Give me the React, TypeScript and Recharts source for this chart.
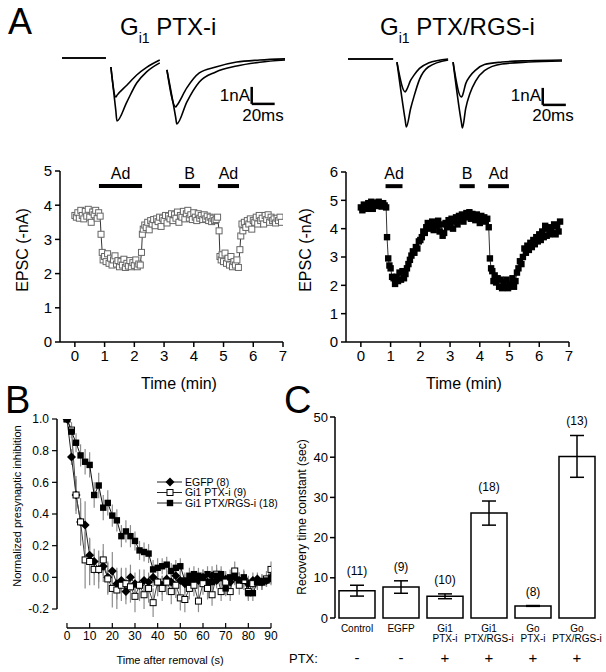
import React from 'react';
import {
  LineChart, Line, XAxis, YAxis, ReferenceLine, ReferenceDot, ErrorBar,
  BarChart, Bar, LabelList,
} from 'recharts';

const FONT = '"Liberation Sans", Arial, Helvetica, sans-serif';

// ---- A: sample EPSC traces (time in ms, current in nA) ----
const traceTimeL = [0, 40, 42, 44.5, 49, 50, 59, 68, 77, 89, 92, 95.5, 103.5, 104.5, 113.6, 125, 140, 159, 180, 203];
const traceCtrlL = [0, 0, null, -0.53, -3.1, -3.7, -2.59, -1.47, -0.82, -0.29, null, -0.7, -3.5, -3.88, -2.59, -1.41, -0.82, -0.47, -0.25, -0.12];
const traceDrugL = [0, 0, null, -0.53, -2.29, -2.2, -1.6, -1.0, -0.55, -0.12, null, -0.7, -2.88, -2.8, -1.76, -0.88, -0.53, -0.24, -0.12, -0.05];

const traceTimeR = [0, 41, 43, 44.5, 52, 53, 57, 60, 65, 73, 91, 93, 95.5, 103, 104, 107, 111, 116, 124, 140, 164, 194.5];
const traceCtrlR = [0, 0, null, -0.18, -3.6, -4.0, -2.9, -2.2, -1.2, -0.47, -0.06, null, -0.18, -3.7, -4.06, -2.9, -2.0, -1.3, -0.68, -0.29, -0.18, -0.12];
const traceDrugR = [0, 0, null, -0.18, -1.94, -1.85, -1.25, -0.95, -0.55, -0.24, 0, null, -0.18, -2.24, -2.15, -1.45, -1.0, -0.65, -0.33, -0.18, -0.1, -0.06];

// ---- A: EPSC amplitude time courses (min, -nA) ----
const epscPtxI: [number, number][] = [
  [0, 3.7], [0.05, 3.65], [0.1, 3.78], [0.15, 3.62], [0.2, 3.85], [0.25, 3.7], [0.3, 3.6], [0.35, 3.82], [0.4, 3.68],
  [0.45, 3.88], [0.5, 3.65], [0.55, 3.5], [0.6, 3.8], [0.65, 3.72], [0.7, 3.85], [0.75, 3.62], [0.8, 3.78], [0.85, 3.68],
  [0.88, 3.15], [0.92, 2.62], [0.95, 2.4], [1.0, 2.5], [1.05, 2.35], [1.1, 2.58], [1.15, 2.3], [1.2, 2.45], [1.25, 2.25],
  [1.3, 2.4], [1.35, 2.52], [1.4, 2.28], [1.45, 2.38], [1.5, 2.2], [1.55, 2.35], [1.6, 2.25], [1.65, 2.42], [1.7, 2.18],
  [1.75, 2.3], [1.8, 2.22], [1.85, 2.38], [1.9, 2.2], [1.95, 2.32], [2.0, 2.24], [2.05, 2.4], [2.1, 2.2], [2.15, 2.28],
  [2.2, 2.25], [2.24, 2.62], [2.27, 3.15], [2.3, 3.3], [2.35, 3.42], [2.4, 3.35], [2.45, 3.5], [2.5, 3.28], [2.55, 3.55],
  [2.6, 3.45], [2.65, 3.58], [2.7, 3.4], [2.75, 3.6], [2.8, 3.52], [2.85, 3.65], [2.9, 3.38], [2.95, 3.62], [3.0, 3.55],
  [3.05, 3.7], [3.1, 3.48], [3.15, 3.68], [3.2, 3.6], [3.25, 3.75], [3.3, 3.55], [3.35, 3.72], [3.4, 3.62], [3.45, 3.8],
  [3.5, 3.5], [3.55, 3.7], [3.6, 3.65], [3.65, 3.82], [3.7, 3.6], [3.75, 3.75], [3.8, 3.85], [3.85, 3.62], [3.9, 3.72],
  [3.95, 3.58], [4.0, 3.78], [4.05, 3.65], [4.1, 3.55], [4.15, 3.75], [4.2, 3.62], [4.25, 3.7], [4.3, 3.58], [4.35, 3.72],
  [4.4, 3.6], [4.45, 3.68], [4.5, 3.55], [4.55, 3.65], [4.6, 3.52], [4.65, 3.62], [4.7, 3.55], [4.75, 3.58], [4.8, 3.65],
  [4.85, 3.25], [4.88, 2.5], [4.92, 2.4], [4.95, 2.55], [5.0, 2.35], [5.05, 2.6], [5.1, 2.3], [5.15, 2.45], [5.2, 2.25],
  [5.25, 2.5], [5.3, 2.2], [5.35, 2.35], [5.4, 2.25], [5.45, 2.4], [5.5, 2.18], [5.55, 2.7], [5.58, 3.1], [5.62, 3.45],
  [5.65, 3.25], [5.7, 3.5], [5.75, 3.35], [5.8, 3.55], [5.85, 3.45], [5.9, 3.6], [5.95, 3.3], [6.0, 3.55], [6.05, 3.5],
  [6.1, 3.65], [6.15, 3.45], [6.2, 3.7], [6.25, 3.55], [6.3, 3.62], [6.35, 3.45], [6.4, 3.7], [6.45, 3.58], [6.5, 3.72],
  [6.55, 3.5], [6.6, 3.65], [6.65, 3.55], [6.7, 3.6], [6.75, 3.48], [6.8, 3.62], [6.85, 3.55], [6.9, 3.65], [6.95, 3.5],
];

const epscPtxRgs: [number, number][] = [
  [0, 4.75], [0.05, 4.65], [0.1, 4.85], [0.15, 4.8], [0.2, 4.7], [0.25, 4.9], [0.3, 4.85], [0.35, 4.95], [0.4, 4.7],
  [0.45, 4.92], [0.5, 4.88], [0.55, 4.8], [0.6, 4.95], [0.65, 4.85], [0.7, 4.78], [0.75, 4.9], [0.8, 4.82], [0.85, 4.75],
  [0.88, 3.7], [0.92, 2.95], [0.96, 2.7], [1.0, 2.6], [1.05, 2.3], [1.1, 2.25], [1.15, 2.05], [1.2, 2.3], [1.25, 2.15],
  [1.3, 2.45], [1.35, 2.2], [1.4, 2.5], [1.45, 2.25], [1.5, 2.4], [1.55, 2.6], [1.6, 2.75], [1.65, 2.9], [1.7, 3.05],
  [1.75, 3.2], [1.8, 3.15], [1.85, 3.35], [1.9, 3.3], [1.95, 3.55], [2.0, 3.6], [2.05, 3.7], [2.1, 3.9], [2.15, 3.85],
  [2.2, 4.05], [2.25, 4.2], [2.3, 4.0], [2.35, 4.15], [2.4, 4.25], [2.45, 3.95], [2.5, 4.2], [2.55, 4.1], [2.6, 4.28],
  [2.65, 3.9], [2.7, 4.15], [2.75, 3.75], [2.8, 3.85], [2.85, 4.2], [2.9, 4.05], [2.95, 4.3], [3.0, 4.1], [3.05, 4.35],
  [3.1, 4.0], [3.15, 4.25], [3.2, 4.4], [3.25, 4.15], [3.3, 4.45], [3.35, 4.3], [3.4, 4.5], [3.45, 4.25], [3.5, 4.45],
  [3.55, 4.55], [3.6, 4.4], [3.65, 4.58], [3.7, 4.35], [3.75, 4.52], [3.8, 4.45], [3.85, 4.3], [3.9, 4.5], [3.95, 4.4],
  [4.0, 4.2], [4.05, 4.45], [4.1, 4.3], [4.15, 4.4], [4.2, 4.25], [4.25, 4.35], [4.3, 4.05], [4.34, 2.95], [4.38, 2.6],
  [4.42, 2.5], [4.46, 2.15], [4.5, 2.35], [4.55, 2.1], [4.6, 2.25], [4.65, 1.95], [4.7, 2.2], [4.75, 1.9], [4.8, 2.1],
  [4.85, 1.95], [4.9, 2.2], [4.95, 1.9], [5.0, 2.05], [5.05, 2.0], [5.1, 2.25], [5.15, 1.95], [5.2, 2.15], [5.25, 2.45],
  [5.3, 2.6], [5.35, 2.85], [5.4, 2.75], [5.45, 3.0], [5.5, 3.3], [5.55, 3.15], [5.6, 3.4], [5.65, 3.25], [5.7, 3.5],
  [5.75, 3.35], [5.8, 3.6], [5.85, 3.45], [5.9, 3.7], [5.95, 3.55], [6.0, 3.8], [6.05, 3.6], [6.1, 3.9], [6.15, 3.7],
  [6.2, 4.1], [6.25, 3.75], [6.3, 4.0], [6.35, 3.8], [6.4, 4.05], [6.45, 3.85], [6.5, 4.15], [6.55, 3.8], [6.6, 4.1],
  [6.65, 3.9], [6.7, 4.25],
];

// drug application bars: [label, start, end]
const drugsPtxI: [string, number, number][] = [['Ad', 0.81, 2.26], ['B', 3.5, 4.21], ['Ad', 4.81, 5.52]];
const drugsPtxRgs: [string, number, number][] = [['Ad', 0.83, 1.4], ['B', 3.32, 3.83], ['Ad', 4.28, 4.98]];
const minuteTicks = [0, 1, 2, 3, 4, 5, 6, 7];

// ---- B: recovery of presynaptic inhibition ----
const bTime = [0, 2, 4, 6, 8, 10, 12, 14, 16, 18, 20, 22, 24, 26, 28, 30, 32, 34, 36, 38, 40, 42, 44, 46,
  48, 50, 52, 54, 56, 58, 60, 62, 64, 66, 68, 70, 72, 74, 76, 78, 80, 82, 84, 86, 88, 90];
const bEgfp = [1.0, 0.76, 0.52, 0.35, 0.33, 0.14, 0.1, 0.05, 0.07, 0.0, 0.04, -0.04, -0.02, -0.09, 0.0, -0.04,
  -0.05, -0.02, -0.03, 0.0, -0.03, -0.05, -0.01, -0.03, 0.01, -0.02, -0.04, -0.03, -0.01, -0.02, 0.0, -0.03,
  0.01, -0.02, 0.0, -0.01, -0.03, 0.0, -0.02, -0.01, -0.04, -0.02, -0.01, -0.03, -0.02, 0.0];
const bPtxI = [1.0, 0.93, 0.52, 0.35, 0.11, 0.1, 0.05, 0.05, 0.11, -0.01, -0.07, -0.08, -0.05, -0.04, -0.06, -0.12,
  -0.05, -0.11, -0.07, -0.16, -0.03, -0.07, -0.03, -0.09, -0.05, -0.13, -0.14, -0.07, -0.05, -0.15, -0.04, -0.07,
  -0.11, 0.02, -0.09, -0.03, -0.09, 0.04, -0.05, -0.02, -0.09, -0.04, -0.03, -0.03, -0.01, 0.05];
const bPtxRgs = [1.0, 0.92, 0.85, 0.77, 0.73, 0.71, 0.52, 0.58, 0.44, 0.47, 0.39, 0.36, 0.26, 0.29, 0.26, 0.23,
  0.17, 0.16, 0.15, 0.05, 0.06, 0.07, 0.08, 0.04, 0.06, 0.07, -0.02, 0.01, 0.02, 0.01, 0.0, 0.02, -0.03, 0.01,
  0.02, -0.07, 0.0, 0.01, -0.02, 0.0, -0.1, -0.1, -0.03, -0.03, -0.02, -0.01];
const bEgfpErr = [0, 0.05, 0.1, 0.12, 0.15, 0.1, 0.08, 0.08, 0.1, 0.1, 0.12, 0.1, 0.08, 0.08, 0.08, 0.07, 0.06,
  0.07, 0.06, 0.06, 0.06, 0.06, 0.05, 0.06, 0.05, 0.06, 0.06, 0.05, 0.05, 0.06, 0.05, 0.05, 0.06, 0.05, 0.05,
  0.05, 0.05, 0.05, 0.05, 0.05, 0.05, 0.05, 0.04, 0.05, 0.04, 0.04];
const bPtxIErr = [0, 0.05, 0.12, 0.15, 0.18, 0.15, 0.1, 0.12, 0.1, 0.1, 0.12, 0.12, 0.1, 0.1, 0.1, 0.1, 0.1, 0.09,
  0.09, 0.09, 0.09, 0.08, 0.08, 0.08, 0.08, 0.08, 0.08, 0.07, 0.07, 0.07, 0.07, 0.07, 0.07, 0.06, 0.06, 0.06,
  0.06, 0.06, 0.06, 0.06, 0.05, 0.05, 0.05, 0.05, 0.05, 0.05];
const bPtxRgsErr = [0, 0.04, 0.06, 0.07, 0.08, 0.08, 0.08, 0.08, 0.08, 0.08, 0.07, 0.07, 0.07, 0.07, 0.07, 0.06,
  0.06, 0.06, 0.06, 0.06, 0.06, 0.05, 0.05, 0.05, 0.05, 0.05, 0.05, 0.05, 0.05, 0.05, 0.05, 0.05, 0.05, 0.05,
  0.05, 0.05, 0.05, 0.05, 0.05, 0.05, 0.05, 0.05, 0.04, 0.04, 0.04, 0.04];
const bLegend = ['EGFP (8)', 'Gi1 PTX-i (9)', 'Gi1 PTX/RGS-i (18)'];

// ---- C: recovery time constants ----
const cLine1 = ['Control', 'EGFP', 'Gi1', 'Gi1', 'Go', 'Go'];
const cLine2 = ['', '', 'PTX-i', 'PTX/RGS-i', 'PTX-i', 'PTX/RGS-i'];
const cTau = [6.8, 7.7, 5.4, 26.1, 3.0, 40.2];
const cErr = [1.35, 1.55, 0.6, 3.0, 0.1, 5.2];
const cN = ['(11)', '(9)', '(10)', '(18)', '(8)', '(13)'];
const cPtx = ['-', '-', '+', '+', '+', '+'];
const cEdges = [0, 1, 2, 3, 4, 5, 6];

const traceL = traceTimeL.map((t, i) => ({ t, a: traceCtrlL[i], b: traceDrugL[i] }));
const traceR = traceTimeR.map((t, i) => ({ t, a: traceCtrlR[i], b: traceDrugR[i] }));
const leftData = epscPtxI.map(([t, v]) => ({ t, v }));
const rightData = epscPtxRgs.map(([t, v]) => ({ t, v }));
const bData = bTime.map((t, i) => ({
  t, egfp: bEgfp[i], ptx: bPtxI[i], rgs: bPtxRgs[i],
  egfpErr: bEgfpErr[i], ptxErr: bPtxIErr[i], rgsErr: bPtxRgsErr[i],
}));
const cData = cLine1.map((_, i) => ({ name: String(i), tau: cTau[i], err: cErr[i], n: cN[i] }));

const axisStroke = { stroke: '#000', strokeWidth: 1.5 };

const OpenSquare = (props: any) => {
  const { cx, cy, index } = props;
  if (cx == null || cy == null) return <g key={index} />;
  return <rect key={index} x={cx - 3} y={cy - 3} width={6} height={6} fill="#fff" stroke="#666" strokeWidth={1} />;
};
const FilledSquare = (props: any) => {
  const { cx, cy, index } = props;
  if (cx == null || cy == null) return <g key={index} />;
  return <rect key={index} x={cx - 3.2} y={cy - 3.2} width={6.4} height={6.4} fill="#000" />;
};
const OpenSquareB = (props: any) => {
  const { cx, cy, index } = props;
  if (cx == null || cy == null) return <g key={index} />;
  return <rect key={index} x={cx - 3} y={cy - 3} width={6} height={6} fill="#fff" stroke="#000" strokeWidth={1} />;
};
const Diamond = (props: any) => {
  const { cx, cy, index } = props;
  if (cx == null || cy == null) return <g key={index} />;
  return <polygon key={index} points={`${cx},${cy - 4.5} ${cx + 4.5},${cy} ${cx},${cy + 4.5} ${cx - 4.5},${cy}`} fill="#000" />;
};

const Trace = ({ data, left, top, width, domain, bar }: any) => (
  <div style={{ position: 'absolute', left, top }}>
    <LineChart width={width} height={85} data={data} margin={{ top: 0, right: 0, bottom: 0, left: 0 }}>
      <XAxis type="number" dataKey="t" domain={domain} hide />
      <YAxis type="number" domain={[-4.53, 0.47]} hide />
      <ReferenceLine segment={[{ x: bar[0], y: -1.7 }, { x: bar[0], y: -2.7 }]} stroke="#000" strokeWidth={2.5} ifOverflow="visible" />
      <ReferenceLine segment={[{ x: bar[0], y: -2.7 }, { x: bar[1], y: -2.7 }]} stroke="#000" strokeWidth={2.5} ifOverflow="visible" />
      <Line type="monotone" dataKey="a" stroke="#000" strokeWidth={1.6} dot={false} connectNulls={false} isAnimationActive={false} />
      <Line type="monotone" dataKey="b" stroke="#000" strokeWidth={1.6} dot={false} connectNulls={false} isAnimationActive={false} />
    </LineChart>
  </div>
);

const TimeCourse = ({ data, left, top, margin, yMax, drugs, barY, labelY, dot }: any) => {
  const yTicks = Array.from({ length: yMax + 1 }, (_, i) => i);
  return (
    <div style={{ position: 'absolute', left, top }}>
      <LineChart width={300} height={230} data={data} margin={margin}>
        <XAxis type="number" dataKey="t" domain={[-0.5, 7]} ticks={minuteTicks} allowDataOverflow height={30}
          tick={{ fontSize: 15, fill: '#000', fontFamily: FONT }} tickLine={axisStroke} axisLine={axisStroke}
          tickSize={5} tickMargin={3} />
        <YAxis type="number" domain={[0, yMax]} ticks={yTicks} width={40}
          tick={{ fontSize: 15, fill: '#000', fontFamily: FONT }} tickLine={axisStroke} axisLine={axisStroke}
          tickSize={5} tickMargin={3} />
        {drugs.map(([name, s, e]: [string, number, number], i: number) => (
          <ReferenceLine key={'l' + i} segment={[{ x: s, y: barY }, { x: e, y: barY }]} stroke="#000" strokeWidth={4} />
        ))}
        {drugs.map(([name, s, e]: [string, number, number], i: number) => (
          <ReferenceDot key={'d' + i} x={(s + e) / 2} y={labelY} r={0} stroke="none" fill="none"
            label={{ value: name, position: 'center', fontSize: 16, fill: '#000', fontFamily: FONT }} />
        ))}
        <Line type="linear" dataKey="v" stroke="#000" strokeWidth={0.8} dot={dot} isAnimationActive={false} />
      </LineChart>
    </div>
  );
};

const CTick = (props: any) => {
  const { x, y, index } = props;
  return (
    <g fontFamily={FONT} fill="#000">
      <text x={x} y={y + 14} textAnchor="middle" fontSize={10}>{cLine1[index]}</text>
      {cLine2[index] ? <text x={x} y={y + 24} textAnchor="middle" fontSize={10}>{cLine2[index]}</text> : null}
      <text x={x} y={y + 45} textAnchor="middle" fontSize={15}>{cPtx[index]}</text>
    </g>
  );
};

const NLabel = (p: any) => {
  const { x, y, width, height, index, value } = p;
  const per = height / cTau[index];
  const top = y - cErr[index] * per;
  return <text x={x + width / 2} y={top - 10} textAnchor="middle" fontSize={12} fontFamily={FONT} fill="#000">{value}</text>;
};

export default function App() {
  const bLegendGlyphs = [Diamond, OpenSquareB, FilledSquare];
  return (
    <div style={{ position: 'absolute', left: 0, top: 0, width: 606, height: 672, background: '#fff', fontFamily: FONT }}>
      <Trace data={traceL} left={62} top={50} width={223} domain={[0, 203]} bar={[172.7, 193.6]} />
      <Trace data={traceR} left={348} top={51} width={225} domain={[0, 204.5]} bar={[177, 198]} />

      <TimeCourse data={leftData} left={0} top={150} margin={{ top: 21, right: 17, bottom: 8, left: 20 }}
        yMax={5} drugs={drugsPtxI} barY={4.56} labelY={4.94} dot={OpenSquare} />
      <TimeCourse data={rightData} left={303} top={150} margin={{ top: 22, right: 34, bottom: 8, left: 3 }}
        yMax={6} drugs={drugsPtxRgs} barY={5.5} labelY={5.95} dot={FilledSquare} />

      <div style={{ position: 'absolute', left: 0, top: 400 }}>
        <LineChart width={290} height={260} data={bData} margin={{ top: 19, right: 19, bottom: 2, left: 12 }}>
          <XAxis type="number" dataKey="t" domain={[-4.4, 90]} allowDataOverflow ticks={[0, 10, 20, 30, 40, 50, 60, 70, 80, 90]}
            height={30} axisLine={false} tickLine={{ stroke: '#000', strokeWidth: 1.2 }} tickSize={-5} tickMargin={8}
            tick={{ fontSize: 12, fill: '#000', fontFamily: FONT }} />
          <YAxis type="number" domain={[-0.32, 1.0]} allowDataOverflow ticks={[-0.2, 0, 0.2, 0.4, 0.6, 0.8, 1.0]}
            tickFormatter={(v: number) => v.toFixed(1)} width={45} axisLine={false}
            tickLine={{ stroke: '#000', strokeWidth: 1.2 }} tickSize={5} tickMargin={3}
            tick={{ fontSize: 12, fill: '#000', fontFamily: FONT }} />
          <ReferenceLine segment={[{ x: -4.4, y: -0.2 }, { x: -4.4, y: 1.0 }]} stroke="#000" strokeWidth={1.5} ifOverflow="visible" />
          <ReferenceLine segment={[{ x: 0, y: -0.32 }, { x: 90, y: -0.32 }]} stroke="#000" strokeWidth={1.5} ifOverflow="visible" />
          <Line type="linear" dataKey="egfp" stroke="#222" strokeWidth={1} dot={Diamond} isAnimationActive={false}>
            <ErrorBar dataKey="egfpErr" width={0} stroke="#8c8c8c" strokeWidth={1.2} direction="y" />
          </Line>
          <Line type="linear" dataKey="ptx" stroke="#444" strokeWidth={1} dot={OpenSquareB} isAnimationActive={false}>
            <ErrorBar dataKey="ptxErr" width={0} stroke="#8c8c8c" strokeWidth={1.2} direction="y" />
          </Line>
          <Line type="linear" dataKey="rgs" stroke="#111" strokeWidth={1} dot={FilledSquare} isAnimationActive={false}>
            <ErrorBar dataKey="rgsErr" width={0} stroke="#8c8c8c" strokeWidth={1.2} direction="y" />
          </Line>
        </LineChart>
      </div>

      <div style={{ position: 'absolute', left: 290, top: 395 }}>
        <BarChart width={316} height={277} data={cData} margin={{ top: 22, right: 7, bottom: 4, left: 15 }} barCategoryGap={4}>
          <XAxis xAxisId="edge" type="number" domain={[0, 6]} ticks={cEdges} height={0} tick={false}
            axisLine={axisStroke} tickLine={{ stroke: '#000', strokeWidth: 1.2 }} tickSize={4} />
          <XAxis xAxisId="cat" dataKey="name" height={50} axisLine={false} tickLine={false} tickSize={0} tickMargin={0}
            tick={<CTick />} interval={0} />
          <YAxis type="number" domain={[0, 50]} ticks={[0, 10, 20, 30, 40, 50]} width={30}
            tick={{ fontSize: 13, fill: '#000', fontFamily: FONT }} tickLine={axisStroke} axisLine={axisStroke}
            tickSize={5} tickMargin={2} />
          <Bar xAxisId="cat" dataKey="tau" fill="#fff" stroke="#000" strokeWidth={1.5} isAnimationActive={false}>
            <ErrorBar dataKey="err" width={7} stroke="#000" strokeWidth={1.5} direction="y" />
            <LabelList dataKey="n" content={NLabel} />
          </Bar>
        </BarChart>
      </div>

      <svg width={606} height={672} style={{ position: 'absolute', left: 0, top: 0, pointerEvents: 'none' }}
        fontFamily={FONT} fontWeight={400} fill="#000">
        <text x={8} y={34} fontSize={36}>A</text>
        <text x={5} y={413} fontSize={38}>B</text>
        <text x={284} y={413} fontSize={38}>C</text>

        <text x={120} y={35} fontSize={24}>G<tspan fontSize={14} dy={8}>i1</tspan><tspan dy={-8}> PTX-i</tspan></text>
        <text x={380} y={35} fontSize={24}>G<tspan fontSize={14} dy={8}>i1</tspan><tspan dy={-8}> PTX/RGS-i</tspan></text>

        <text x={250} y={101} fontSize={17} textAnchor="end">1nA</text>
        <text x={263} y={121} fontSize={17} textAnchor="middle">20ms</text>
        <text x={541} y={101} fontSize={17} textAnchor="end">1nA</text>
        <text x={553} y={121} fontSize={17} textAnchor="middle">20ms</text>

        <text x={22} y={250} fontSize={16} textAnchor="middle" dominantBaseline="central" transform="rotate(-90 22 250)">EPSC (-nA)</text>
        <text x={305} y={250} fontSize={16} textAnchor="middle" dominantBaseline="central" transform="rotate(-90 305 250)">EPSC (-nA)</text>
        <text x={179} y={389} fontSize={16} fontWeight={400} textAnchor="middle">Time (min)</text>
        <text x={464} y={389} fontSize={16} fontWeight={400} textAnchor="middle">Time (min)</text>

        <text x={17} y={506} fontSize={11} textAnchor="middle" dominantBaseline="central" transform="rotate(-90 17 506)">Normalized presynaptic inhibition</text>
        <text x={170} y={664} fontSize={11} fontWeight={400} textAnchor="middle">Time after removal (s)</text>
        {bLegend.map((name, i) => {
          const y = 482 + i * 10.5;
          const Glyph = bLegendGlyphs[i];
          return (
            <g key={name}>
              <line x1={157} x2={182} y1={y} y2={y} stroke="#222" strokeWidth={1} />
              <Glyph cx={170} cy={y} index={i} />
              <text x={185} y={y + 3.8} fontSize={10.5}>{name}</text>
            </g>
          );
        })}

        <text x={302} y={517} fontSize={12} textAnchor="middle" dominantBaseline="central" transform="rotate(-90 302 517)">Recovery time constant (sec)</text>
        <text x={289} y={663} fontSize={13}>PTX:</text>
      </svg>
    </div>
  );
}
